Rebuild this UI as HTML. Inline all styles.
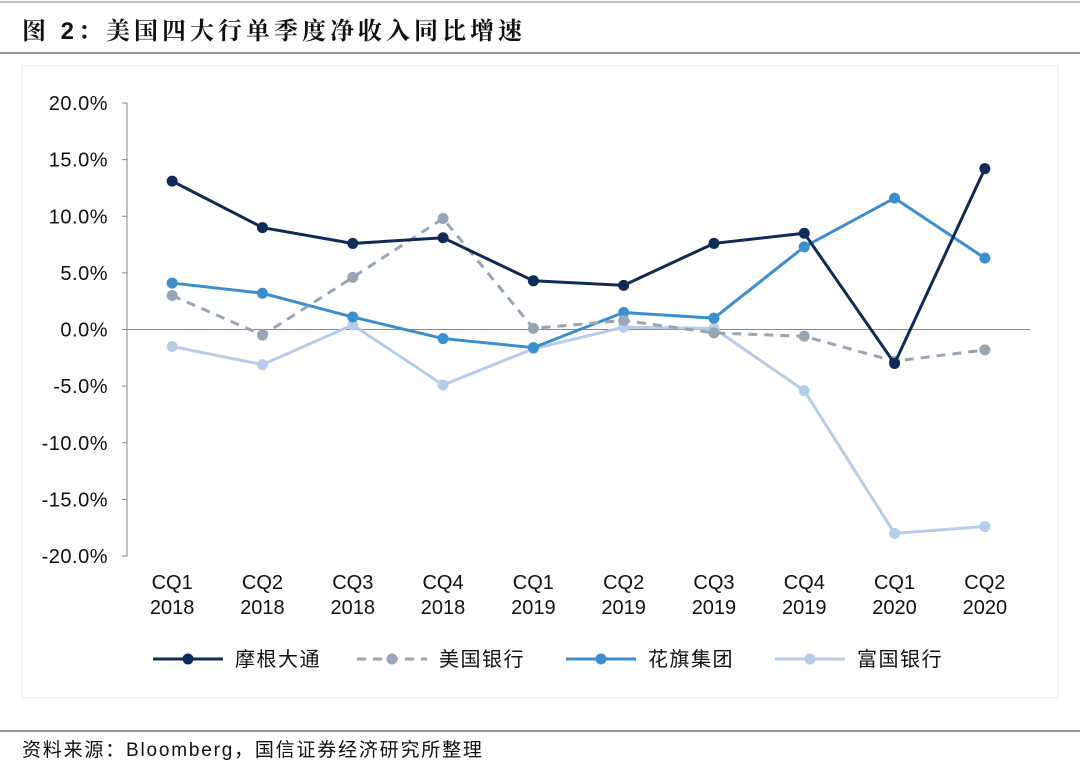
<!DOCTYPE html>
<html><head><meta charset="utf-8"><style>
body{margin:0;background:#fff;width:1080px;height:765px;overflow:hidden;font-family:"Liberation Sans","Noto Sans CJK SC",sans-serif}
</style></head><body>
<svg width="1080" height="765">
<line x1="0" y1="2" x2="1080" y2="2" stroke="#888" stroke-width="1"/>
<text x="22" y="39" font-size="24" font-weight="bold" letter-spacing="4" fill="#111" font-family="Liberation Sans,Noto Serif CJK SC,sans-serif">图 2：美国四大行单季度净收入同比增速</text>
<line x1="0" y1="53" x2="1080" y2="53" stroke="#555" stroke-width="1.2"/>
<rect x="22" y="66" width="1036" height="632" fill="none" stroke="#e6e6e6"/>
<g id="axes"></g>
<g id="series"></g>
<g id="legend"></g>
<line x1="0" y1="731" x2="1080" y2="731" stroke="#555" stroke-width="1.2"/>
<text x="22" y="756" font-size="19" letter-spacing="1.8" fill="#111">资料来源：Bloomberg，国信证券经济研究所整理</text>
</svg>
<script>
const categories=["CQ1|2018","CQ2|2018","CQ3|2018","CQ4|2018","CQ1|2019","CQ2|2019","CQ3|2019","CQ4|2019","CQ1|2020","CQ2|2020"];
const yTicks=[20,15,10,5,0,-5,-10,-15,-20];
const seriesNames=["摩根大通","美国银行","花旗集团","富国银行"];
const jpm=[13.1,9.0,7.6,8.1,4.3,3.9,7.6,8.5,-3.0,14.2];
const bac=[3.0,-0.5,4.6,9.8,0.1,0.8,-0.3,-0.6,-2.8,-1.8];
const citi=[4.1,3.2,1.1,-0.8,-1.6,1.5,1.0,7.3,11.6,6.3];
const wfc=[-1.5,-3.1,0.4,-4.9,-1.7,0.2,0.1,-5.4,-18.0,-17.4];
const NS="http://www.w3.org/2000/svg";
const x0=127,x1=1030,yTop=103,yBot=556;
const xs=i=>x0+(x1-x0)/categories.length*(i+0.5);
const ys=v=>yTop+(20-v)/40*(yBot-yTop);
function mk(t,a,p){const e=document.createElementNS(NS,t);for(const k in a)e.setAttribute(k,a[k]);p.appendChild(e);return e;}
const ax=document.getElementById('axes');
const yl=mk('line',{x1:x0,y1:yTop,x2:x0,y2:yBot,stroke:'#888'},ax);


yTicks.forEach(v=>{
 const t=mk('text',{x:108,y:ys(v)+7,'text-anchor':'end','font-size':20,'letter-spacing':0.5,fill:'#111'},ax);
 t.textContent=v.toFixed(1)+'%';
 
 
 const tk=mk('line',{x1:x0-5,y1:ys(v),x2:x0,y2:ys(v),stroke:'#888'},ax);
 
 
});
const xl=mk('line',{x1:x0,y1:ys(0),x2:x1,y2:ys(0),stroke:'#888'},ax);


categories.forEach((c,i)=>{
 const [a,b]=c.split('|');
 const t=mk('text',{x:xs(i),y:589,'text-anchor':'middle','font-size':20,fill:'#111'},ax);
 t.textContent=a;
 
 
 const t2=mk('text',{x:xs(i),y:614,'text-anchor':'middle','font-size':20,fill:'#111'},ax);
 t2.textContent=b;
 
 
});
const cols=['#0f2b57','#97a6b6','#3b8fd0','#b5cde9'];
const dash=['','9,7','',''];
const data=[jpm,bac,citi,wfc];
const sg=document.getElementById('series');
[3,2,1,0].forEach(k=>{
 const g=mk('g',{},sg);
 
 
 const p=mk('polyline',{points:data[k].map((v,i)=>xs(i)+','+ys(v)).join(' '),fill:'none',stroke:cols[k],'stroke-width':3,'stroke-dasharray':dash[k]},g);
 
 
 data[k].forEach((v,i)=>{
  const c=mk('circle',{cx:xs(i),cy:ys(v),r:5.5,fill:cols[k]},g);
  
  
 });
});
const lg=document.getElementById('legend');
const lx=[153,357,566,775];
seriesNames.forEach((n,k)=>{
 const g=mk('g',{},lg);
 
 
 mk('line',{x1:lx[k],y1:659,x2:lx[k]+70,y2:659,stroke:cols[k],'stroke-width':3,'stroke-dasharray':dash[k]},g);
 mk('circle',{cx:lx[k]+35,cy:659,r:5.5,fill:cols[k]},g);
 const t=mk('text',{x:lx[k]+82,y:666,'font-size':20,'letter-spacing':1.5,fill:'#111'},g);
 t.textContent=n;
});
</script>
</body></html>
